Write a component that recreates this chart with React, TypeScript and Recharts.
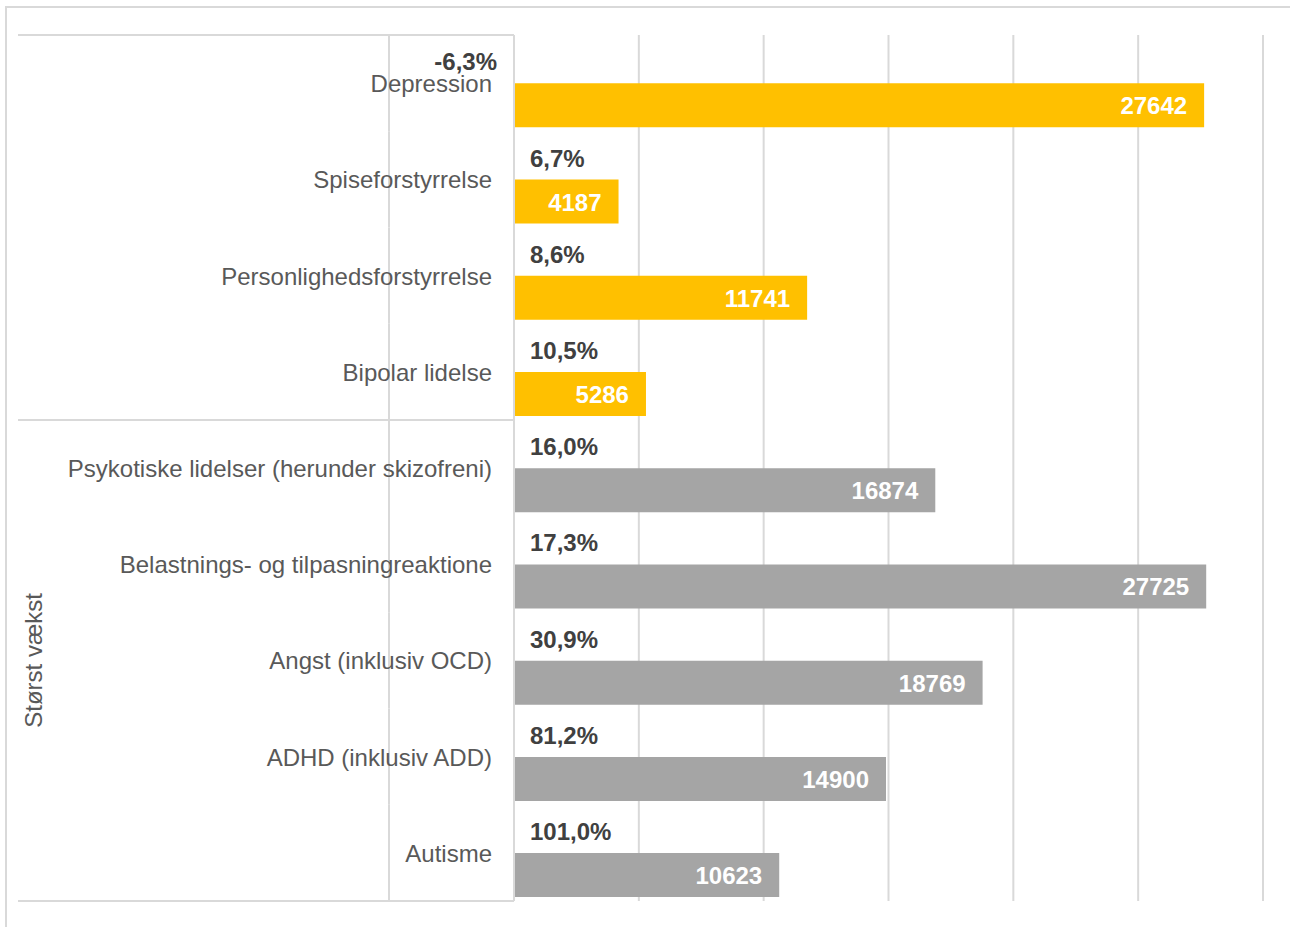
import { BarChart, Bar, XAxis, YAxis, CartesianGrid, LabelList, Cell } from 'recharts'

const categories = [
  'Depression',
  'Spiseforstyrrelse',
  'Personlighedsforstyrrelse',
  'Bipolar lidelse',
  'Psykotiske lidelser (herunder skizofreni)',
  'Belastnings- og tilpasningreaktione',
  'Angst (inklusiv OCD)',
  'ADHD (inklusiv ADD)',
  'Autisme',
]
const groups = ['', '', '', '', 'Størst vækst', 'Størst vækst', 'Størst vækst', 'Størst vækst', 'Størst vækst']
const patients = [27642, 4187, 11741, 5286, 16874, 27725, 18769, 14900, 10623]
const growth = [-6.3, 6.7, 8.6, 10.5, 16.0, 17.3, 30.9, 81.2, 101.0]
const xTicks = [0, 5000, 10000, 15000, 20000, 25000, 30000]

const GOLD = '#FFC000'
const GREY = '#A5A5A5'
const LINE = '#D9D9D9'
const FONT = "Arial, 'Liberation Sans', sans-serif"

const W = 1290
const H = 927
const M = { top: 35, right: 27, bottom: 26, left: 0 }
const AXIS_X = 514
const GROUP_X = 389
const LEFT_X = 18
const BAND = (H - M.top - M.bottom) / categories.length

const data = categories.map((name, i) => ({
  name,
  group: groups[i],
  growth: growth[i],
  patients: patients[i],
}))

const fmtPct = (v: number) => `${v.toFixed(1).replace('.', ',')}%`

function CategoryTick(props: any) {
  const { y, payload, index } = props
  const half = BAND / 2
  const top = y - half
  const bottom = y + half
  const g = groups[index]
  const isGroupStart = index === 0 || groups[index - 1] !== g
  const isLast = index === categories.length - 1
  let groupLabel = null
  if (isGroupStart && g) {
    let count = 0
    for (let j = index; j < groups.length && groups[j] === g; j++) count++
    const cy = top + (count * BAND) / 2
    groupLabel = (
      <text
        x={LEFT_X + 24}
        y={cy}
        transform={`rotate(-90 ${LEFT_X + 24} ${cy})`}
        textAnchor="middle"
        fill="#595959"
        fontSize={24}
        fontFamily={FONT}
      >
        {g}
      </text>
    )
  }
  return (
    <g>
      {isGroupStart && <line x1={LEFT_X} x2={AXIS_X} y1={top} y2={top} stroke={LINE} strokeWidth={2} />}
      {isLast && <line x1={LEFT_X} x2={AXIS_X} y1={bottom} y2={bottom} stroke={LINE} strokeWidth={2} />}
      <line x1={GROUP_X} x2={GROUP_X} y1={top} y2={bottom} stroke={LINE} strokeWidth={2} />
      <text x={AXIS_X - 22} y={y + 9} textAnchor="end" fill="#595959" fontSize={24} fontFamily={FONT}>
        {payload.value}
      </text>
      {groupLabel}
    </g>
  )
}

function GrowthLabel(props: any) {
  const { x, y, height, value } = props
  const neg = value < 0
  return (
    <text
      x={neg ? x - 17 : x + 16}
      y={y + height / 2 + 9}
      textAnchor={neg ? 'end' : 'start'}
      fill="#404040"
      fontSize={24}
      fontWeight="bold"
      fontFamily={FONT}
    >
      {fmtPct(value)}
    </text>
  )
}

function ValueLabel(props: any) {
  const { x, y, width, height, value } = props
  return (
    <text
      x={x + width - 17}
      y={y + height / 2 + 9}
      textAnchor="end"
      fill="#fff"
      fontSize={24}
      fontWeight="bold"
      fontFamily={FONT}
    >
      {value}
    </text>
  )
}

export default function App() {
  return (
    <div style={{ position: 'absolute', left: 0, top: 0, width: W, height: H, overflow: 'hidden', background: '#fff' }}>
      <div
        style={{
          position: 'absolute',
          left: 5,
          top: 6,
          width: W + 20,
          height: H + 20,
          border: `2px solid ${LINE}`,
        }}
      />
      <div style={{ position: 'absolute', left: 0, top: 0 }}>
        <BarChart
          width={W}
          height={H}
          data={data}
          layout="vertical"
          margin={M}
          barCategoryGap="4.5%"
          barGap={0}
        >
          <CartesianGrid horizontal={false} stroke={LINE} strokeWidth={2} />
          <XAxis type="number" domain={[0, 30000]} ticks={xTicks} allowDataOverflow hide />
          <YAxis
            type="category"
            dataKey="name"
            width={AXIS_X}
            axisLine={{ stroke: LINE, strokeWidth: 2 }}
            tickLine={false}
            tick={<CategoryTick />}
            interval={0}
          />
          <Bar dataKey="growth" fill="none" isAnimationActive={false}>
            <LabelList dataKey="growth" content={<GrowthLabel />} />
          </Bar>
          <Bar dataKey="patients" isAnimationActive={false}>
            {data.map((d, i) => (
              <Cell key={i} fill={d.group ? GREY : GOLD} />
            ))}
            <LabelList dataKey="patients" content={<ValueLabel />} />
          </Bar>
        </BarChart>
      </div>
    </div>
  )
}
